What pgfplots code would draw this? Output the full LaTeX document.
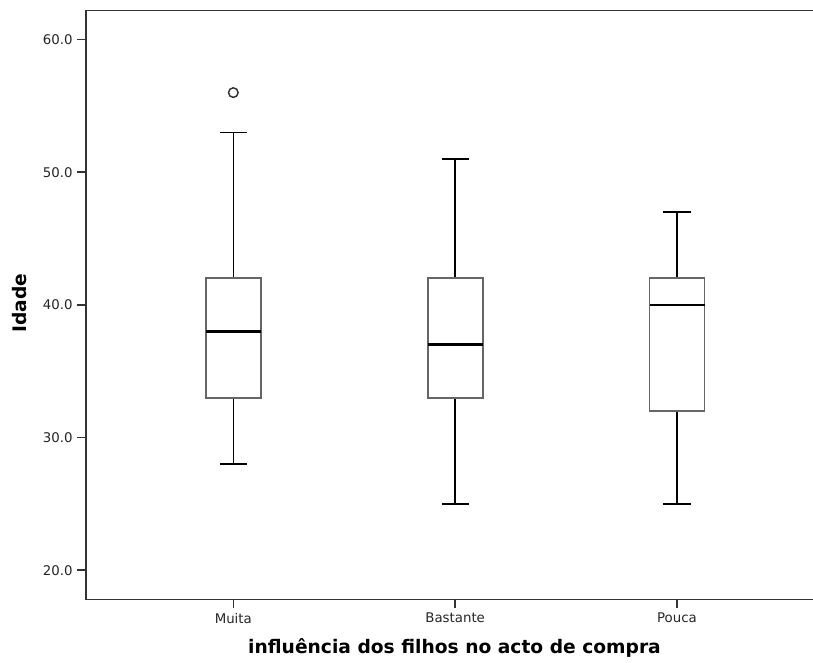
\documentclass[border=0pt]{standalone}
\usepackage{pgfplots}
\pgfplotsset{compat=1.18}
\usepgfplotslibrary{statistics}
\usepackage{fontspec}
\setmainfont{DejaVu Sans}
\begin{document}
\begin{tikzpicture}
\useasboundingbox (-64.5pt,-47.625pt) rectangle (545.25pt,449.625pt);
\begin{axis}[
  at={(0pt,0pt)}, anchor=south west,
  scale only axis, width=545.25pt, height=441.75pt,
  xmin=-0.664, xmax=2.613, ymin=17.79, ymax=62.19,
  axis line style={draw=none},
  xtick={0,1,2}, xticklabels={Muita,Bastante,Pouca},
  ytick={20,30,40,50,60},
  xtick pos=lower, ytick pos=left,
  tick align=outside,
  major tick length=6.5pt,
  tick style={draw=black!80, line width=1.2pt},
  yticklabel style={/pgf/number format/.cd,fixed,fixed zerofill,precision=1},
  /pgf/number format/assume math mode=true,
  tick label style={font=\fontsize{10}{12}\selectfont, text=black!85},
  xlabel={influência dos filhos no acto de compra},
  ylabel={Idade},
  every axis x label/.style={at={(axis description cs:0.5069,-0.0823)}, anchor=center, font=\bfseries\fontsize{14}{17}\selectfont},
  every axis y label/.style={at={(axis description cs:-0.0908,0.503)}, rotate=90, anchor=center, font=\bfseries\fontsize{14}{17}\selectfont},
  boxplot/draw direction=y,
  boxplot/box extend=0.248,
  boxplot/whisker extend=0.123,
  boxplot/every box/.style={draw=black!60, line width=1.3pt},
  boxplot/every whisker/.style={draw=black, line width=1.1pt},
  boxplot/every median/.style={draw=black, line width=2pt},
  clip=false,
]
\draw[black!80, line width=1.2pt] (rel axis cs:1.02,1) -- (rel axis cs:0,1) -- (rel axis cs:0,0) -- (rel axis cs:1.02,0);
\addplot[draw=black, line width=1.1pt,
  boxplot prepared={draw position=0, lower whisker=28, lower quartile=33, median=38, upper quartile=42, upper whisker=53}]
  coordinates {};
\addplot[draw=black, line width=1.1pt,
  boxplot prepared={draw position=1, lower whisker=25, lower quartile=33, median=37, upper quartile=42, upper whisker=51}]
  coordinates {};
\addplot[draw=black, line width=1.1pt,
  boxplot prepared={draw position=2, lower whisker=25, lower quartile=32, median=40, upper quartile=42, upper whisker=47}]
  coordinates {};
\addplot[only marks, mark=o, mark size=3.6pt, mark options={draw=black!80, line width=1.1pt, fill=white}]
  coordinates {(0,56)};
\end{axis}
\end{tikzpicture}
\end{document}
